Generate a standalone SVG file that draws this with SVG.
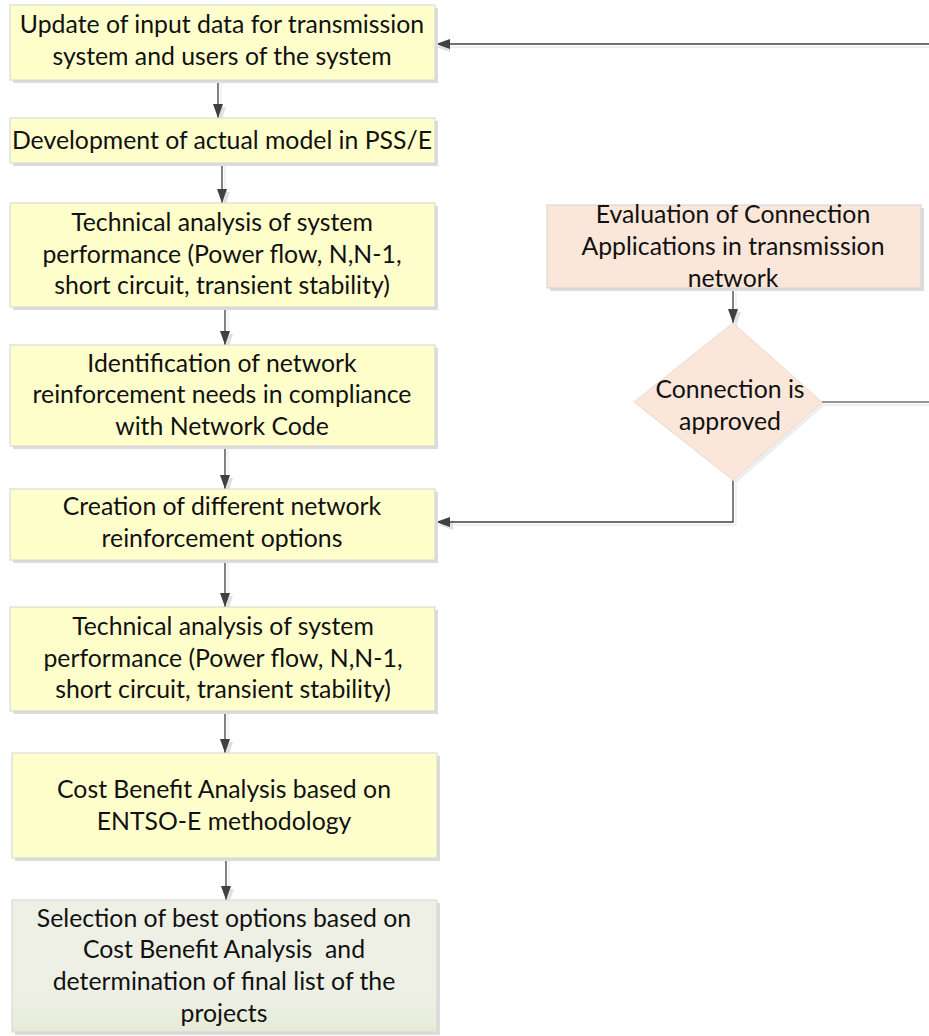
<svg xmlns="http://www.w3.org/2000/svg" width="929" height="1036" viewBox="0 0 929 1036">
<style>
.box{stroke:#d4d4d4;stroke-width:1}
.y{fill:#ffffcc}
.s{fill:#fbe6da}
.g{fill:url(#gg)}
.sh{fill:#dcdcdc}
.t{font-family:Lato,"Liberation Sans",sans-serif;font-size:24.8px;fill:#111;text-anchor:middle}
.c{fill:none;stroke:#404040;stroke-width:1.3}
.cs{fill:none;stroke:#ebebeb;stroke-width:1.3}
</style>
<defs>
<linearGradient id="gg" x1="0" y1="0" x2="0" y2="1">
<stop offset="0" stop-color="#eef0e6"/>
<stop offset="0.7" stop-color="#eef0e6"/>
<stop offset="1" stop-color="#e6ebd6"/>
</linearGradient>
<marker id="ah" viewBox="0 0 14 10" refX="14" refY="5" markerWidth="14" markerHeight="10" markerUnits="userSpaceOnUse" orient="auto">
<path d="M0,0 L14,5 L0,10 Z" fill="#404040"/>
</marker>
<marker id="ahs" viewBox="0 0 14 10" refX="14" refY="5" markerWidth="14" markerHeight="10" markerUnits="userSpaceOnUse" orient="auto">
<path d="M0,0 L14,5 L0,10 Z" fill="#e0e0e0"/>
</marker>
</defs>
<rect width="929" height="1036" fill="#ffffff"/>

<g id="connectors">
<line class="cs" x1="218" y1="80" x2="218" y2="118" marker-end="url(#ahs)" transform="translate(3,3)"/>
<line class="c" x1="218" y1="80" x2="218" y2="118" marker-end="url(#ah)"/>
<line class="cs" x1="222" y1="163" x2="222" y2="203" marker-end="url(#ahs)" transform="translate(3,3)"/>
<line class="c" x1="222" y1="163" x2="222" y2="203" marker-end="url(#ah)"/>
<line class="cs" x1="225" y1="307" x2="225" y2="345" marker-end="url(#ahs)" transform="translate(3,3)"/>
<line class="c" x1="225" y1="307" x2="225" y2="345" marker-end="url(#ah)"/>
<line class="cs" x1="225" y1="446" x2="225" y2="489" marker-end="url(#ahs)" transform="translate(3,3)"/>
<line class="c" x1="225" y1="446" x2="225" y2="489" marker-end="url(#ah)"/>
<line class="cs" x1="225" y1="560" x2="225" y2="607" marker-end="url(#ahs)" transform="translate(3,3)"/>
<line class="c" x1="225" y1="560" x2="225" y2="607" marker-end="url(#ah)"/>
<line class="cs" x1="225" y1="711" x2="225" y2="753" marker-end="url(#ahs)" transform="translate(3,3)"/>
<line class="c" x1="225" y1="711" x2="225" y2="753" marker-end="url(#ah)"/>
<line class="cs" x1="226" y1="858" x2="226" y2="900" marker-end="url(#ahs)" transform="translate(3,3)"/>
<line class="c" x1="226" y1="858" x2="226" y2="900" marker-end="url(#ah)"/>
<line class="cs" x1="733" y1="288" x2="733" y2="323" marker-end="url(#ahs)" transform="translate(3,3)"/>
<line class="c" x1="733" y1="288" x2="733" y2="323" marker-end="url(#ah)"/>
<polyline class="cs" points="929,44 436,44" marker-end="url(#ahs)" transform="translate(0,3)"/>
<polyline class="c" points="929,44 436,44" marker-end="url(#ah)"/>
<polyline class="cs" points="822,402 929,402" transform="translate(0,3)"/>
<polyline class="c" points="822,402 929,402" style="stroke:#707070"/>
<polyline class="cs" points="733,480 733,522 436,522" marker-end="url(#ahs)" transform="translate(3,3)"/>
<polyline class="c" points="733,480 733,522 436,522" marker-end="url(#ah)"/>
</g>

<g id="n1">
<rect class="sh" x="13" y="8" width="425" height="75"/>
<rect class="box y" x="10" y="5" width="425" height="75"/>
<text class="t" x="222" y="33">Update of input data for transmission</text>
<text class="t" x="222" y="65">system and users of the system</text>
</g>
<g id="n2">
<rect class="sh" x="13" y="121" width="425" height="45"/>
<rect class="box y" x="10" y="118" width="425" height="45"/>
<text class="t" x="222" y="149">Development of actual model in PSS/E</text>
</g>
<g id="n3">
<rect class="sh" x="13" y="206" width="425" height="104"/>
<rect class="box y" x="10" y="203" width="425" height="104"/>
<text class="t" x="222" y="231">Technical analysis of system</text>
<text class="t" x="222" y="263">performance (Power flow, N,N-1,</text>
<text class="t" x="222" y="294">short circuit, transient stability)</text>
</g>
<g id="n4">
<rect class="sh" x="13" y="348" width="425" height="101"/>
<rect class="box y" x="10" y="345" width="425" height="101"/>
<text class="t" x="222" y="372">Identification of network</text>
<text class="t" x="222" y="403">reinforcement needs in compliance</text>
<text class="t" x="222" y="435">with Network Code</text>
</g>
<g id="n5">
<rect class="sh" x="13" y="492" width="425" height="71"/>
<rect class="box y" x="10" y="489" width="425" height="71"/>
<text class="t" x="222" y="515">Creation of different network</text>
<text class="t" x="222" y="547">reinforcement options</text>
</g>
<g id="n6">
<rect class="sh" x="13" y="610" width="425" height="104"/>
<rect class="box y" x="10" y="607" width="425" height="104"/>
<text class="t" x="223" y="635">Technical analysis of system</text>
<text class="t" x="223" y="667">performance (Power flow, N,N-1,</text>
<text class="t" x="223" y="698">short circuit, transient stability)</text>
</g>
<g id="n7">
<rect class="sh" x="15" y="756" width="425" height="105"/>
<rect class="box y" x="12" y="753" width="425" height="105"/>
<text class="t" x="224" y="798">Cost Benefit Analysis based on</text>
<text class="t" x="224" y="830">ENTSO-E methodology</text>
</g>
<g id="n8">
<rect class="sh" x="15" y="903" width="425" height="132"/>
<rect class="box g" x="12" y="900" width="425" height="132"/>
<text class="t" x="224" y="927">Selection of best options based on</text>
<text class="t" x="224" y="958" xml:space="preserve">Cost Benefit Analysis  and</text>
<text class="t" x="224" y="990">determination of final list of the</text>
<text class="t" x="224" y="1022">projects</text>
</g>
<g id="n9">
<rect class="sh" x="550" y="208" width="374" height="83"/>
<rect class="box s" x="547" y="205" width="374" height="83"/>
<text class="t" x="733" y="223">Evaluation of Connection</text>
<text class="t" x="733" y="255">Applications in transmission</text>
<text class="t" x="733" y="287">network</text>
</g>
<g id="n10">
<polygon points="736,326 825,405 736,483 637,405" fill="#eeeeee"/>
<polygon points="733,323 822,402 733,480 634,402" class="s" stroke="#eadad0" stroke-width="1"/>
<text class="t" x="730" y="398">Connection is</text>
<text class="t" x="730" y="430">approved</text>
</g>
</svg>
